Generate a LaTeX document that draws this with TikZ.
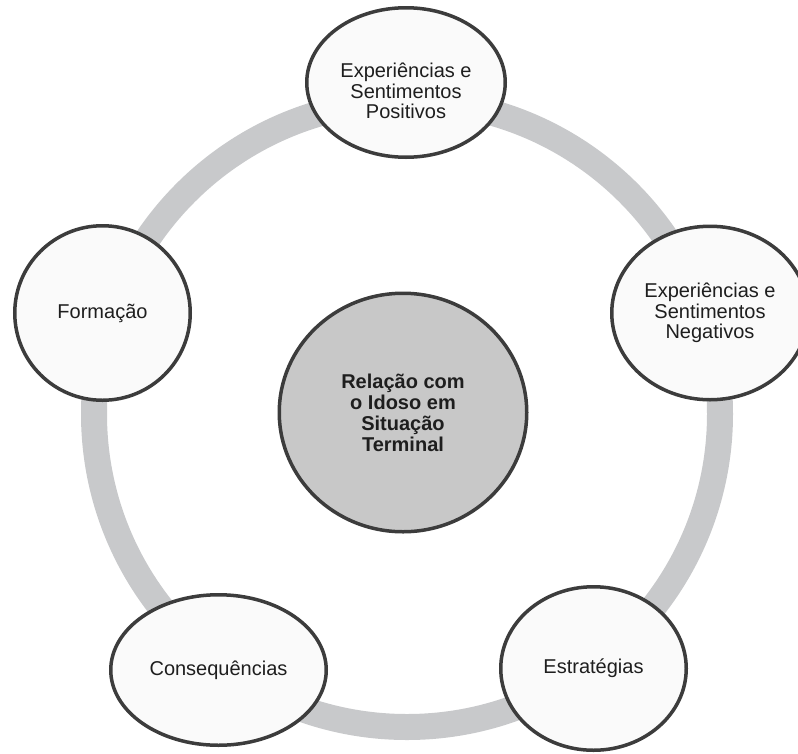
\documentclass[tikz,border=0pt]{standalone}
\usepackage{fontspec}
\setmainfont{Liberation Sans}
\usetikzlibrary{shapes.geometric}
\definecolor{ringgray}{HTML}{C8C9CB}
\definecolor{edgegray}{HTML}{3C3C3C}
\definecolor{centerfill}{HTML}{C8C8C8}
\definecolor{nodefill}{HTML}{FAFAFA}
\definecolor{textcol}{HTML}{1E1E1E}
\begin{document}
\begin{tikzpicture}[x=1pt,y=-1pt,
  labeltext/.style={align=center, text=textcol, inner sep=0pt, font=\fontsize{20}{20.5}\selectfont},
  topic/.style={ellipse, draw=edgegray, line width=3.5pt, fill=nodefill, inner sep=0pt,
    align=center, text=textcol, font=\fontsize{20}{20.5}\selectfont},
  core/.style={topic, fill=centerfill, font=\fontsize{20}{21}\selectfont\bfseries},
  ringline/.style={draw=ringgray, line width=26pt}]
\useasboundingbox (0,0) rectangle (798,753);
\coordinate (c) at (407,414);
\draw[ringline] (c) circle[radius=313pt];
\node[core, minimum width=247.5pt, minimum height=238.5pt] (center) at (403,412.5)
  {Relação com\\o Idoso em\\Situação\\Terminal};
\node[topic, minimum width=198.5pt, minimum height=149.5pt] (pos) at (406,82.5) {};
\node[labeltext] (postext) at (406,91) {Experiências e\\Sentimentos\\Positivos};
\node[topic, minimum width=196.5pt, minimum height=173.5pt] (neg) at (710,313)
  {Experiências e\\Sentimentos\\Negativos};
\node[topic, minimum width=175.5pt, minimum height=174.5pt] (form) at (102.5,313)
  {Formação};
\node[topic, minimum width=215.5pt, minimum height=150.5pt] (cons) at (218.5,670)
  {Consequências};
\node[topic, minimum width=185.5pt, minimum height=163.5pt] (estr) at (593.5,668.5)
  {Estratégias};
\end{tikzpicture}
\end{document}
